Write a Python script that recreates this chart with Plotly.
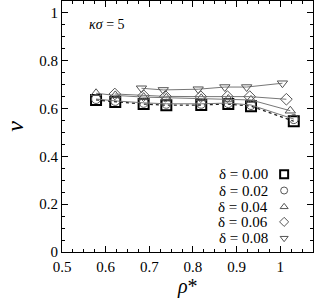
import plotly.graph_objects as go

rho_sq = [0.578, 0.622, 0.687, 0.739, 0.819, 0.881, 0.933, 1.031]
nu_d000 = [0.636, 0.628, 0.619, 0.614, 0.615, 0.619, 0.610, 0.547]

rho_ci = [0.578, 0.622, 0.687, 0.739, 0.819, 0.881, 0.933, 1.031]
nu_d002 = [0.640, 0.632, 0.624, 0.620, 0.620, 0.623, 0.615, 0.556]

rho_tr = [0.578, 0.622, 0.687, 0.739, 0.819, 0.881, 0.933, 1.023]
nu_d004 = [0.664, 0.655, 0.648, 0.645, 0.643, 0.640, 0.636, 0.591]

rho_di = [0.621, 0.687, 0.737, 0.818, 0.879, 0.930, 1.014]
nu_d006 = [0.661, 0.654, 0.651, 0.650, 0.650, 0.650, 0.639]

rho_it = [0.682, 0.732, 0.812, 0.873, 0.923, 1.005]
nu_d008 = [0.685, 0.678, 0.681, 0.690, 0.690, 0.706]

labels = ["δ = 0.00", "δ = 0.02", "δ = 0.04", "δ = 0.06", "δ = 0.08"]
symbols = ["square-open", "circle-open", "triangle-up-open", "diamond-open", "triangle-down-open"]

series = [
    (rho_sq, nu_d000, "dot"),
    (rho_ci, nu_d002, "solid"),
    (rho_tr, nu_d004, "solid"),
    (rho_di, nu_d006, "solid"),
    (rho_it, nu_d008, "solid"),
]

FONT = "Liberation Serif"
fig = go.Figure()

for i, (xs, ys, dash) in enumerate(series):
    bold = i == 0
    fig.add_trace(go.Scatter(
        x=xs, y=ys, mode="lines+markers", name=labels[i], showlegend=False,
        line=dict(color="#222222" if bold else "#777777", width=1.3 if bold else 1, dash=dash),
        marker=dict(symbol=symbols[i], size=10 if bold else 9,
                    color="#000000" if bold else "#555555",
                    line=dict(width=2 if bold else 1, color="#000000" if bold else "#555555")),
    ))

# legend: text right-aligned, symbol to the right
leg_y = [0.31, 0.245, 0.18, 0.12, 0.055]
for i in range(5):
    fig.add_annotation(x=0.83, y=leg_y[i], xref="paper", yref="paper", text=labels[i],
                       showarrow=False, xanchor="right", yanchor="middle",
                       font=dict(family=FONT, size=15, color="#000"))
    fig.add_trace(go.Scatter(
        x=[0.885], y=[leg_y[i]], xaxis="x2", yaxis="y2", mode="markers", showlegend=False,
        marker=dict(symbol=symbols[i], size=8 if i == 0 else 7,
                    color="#000" if i == 0 else "#555",
                    line=dict(width=2 if i == 0 else 1, color="#000" if i == 0 else "#555")),
        hoverinfo="skip"))

fig.add_annotation(x=0.1, y=0.905, xref="paper", yref="paper", text="<i>κσ</i> = 5",
                   showarrow=False, xanchor="left", yanchor="middle",
                   font=dict(family=FONT, size=14, color="#000"))

# x-axis title as annotation for precise placement
fig.add_annotation(x=0.5, y=-0.192, xref="paper", yref="paper", text="<i>ρ</i>*",
                   showarrow=False, xanchor="center", yanchor="bottom",
                   font=dict(family=FONT, size=20, color="#000"))

axis_common = dict(showgrid=False, zeroline=False, showline=True, linecolor="#000", linewidth=1,
                   mirror="ticks", ticks="inside", ticklen=6, tickcolor="#000",
                   tickfont=dict(family=FONT, size=15, color="#000"))

fig.update_layout(
    width=315, height=300, margin=dict(l=62, r=2, t=1, b=48),
    paper_bgcolor="white", plot_bgcolor="white",
    font=dict(family=FONT, color="#000"),
    xaxis=dict(range=[0.5, 1.075], dtick=0.1, tick0=0.5, ticklabelstandoff=1,
               minor=dict(dtick=0.025, ticks="inside", ticklen=3, tickcolor="#000"),
               **axis_common),
    yaxis=dict(range=[0, 1.05], dtick=0.2, tick0=0,
               minor=dict(dtick=0.05, ticks="inside", ticklen=3, tickcolor="#000"),
               title=dict(text="<i>ν</i>", font=dict(family=FONT, size=24, color="#000"), standoff=8),
               **axis_common),
    xaxis2=dict(range=[0, 1], overlaying="x", visible=False, fixedrange=True),
    yaxis2=dict(range=[0, 1], overlaying="y", visible=False, fixedrange=True, anchor="x2"),
)

fig.write_html("out.html", config={"displayModeBar": False},
               post_script="document.body.style.margin='0';")
